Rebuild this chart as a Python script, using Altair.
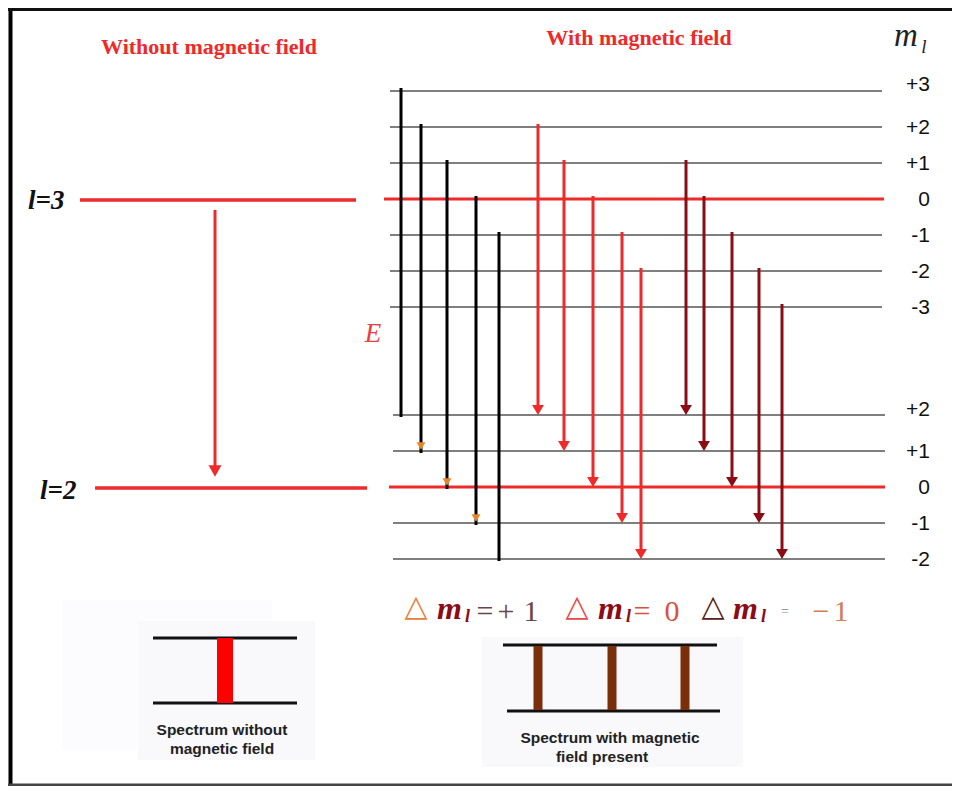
import altair as alt
import pandas as pd

# ---------------- data ----------------
upper_ml = [3, 2, 1, 0, -1, -2, -3]          # l = 3 sub-levels
lower_ml = [2, 1, 0, -1, -2]                 # l = 2 sub-levels
upper_labels = ["+3", "+2", "+1", "0", "-1", "-2", "-3"]
lower_labels = ["+2", "+1", "0", "-1", "-2"]

# transitions: group (delta m_l), upper m_l, lower m_l
trans_group = ["+1"] * 5 + ["0"] * 5 + ["-1"] * 5
trans_upper = [3, 2, 1, 0, -1, 2, 1, 0, -1, -2, 1, 0, -1, -2, -3]
trans_lower = [2, 1, 0, -1, -2, 2, 1, 0, -1, -2, 2, 1, 0, -1, -2]
trans_head = [False, True, True, True, False] + [True] * 10

# spectrum lines (relative positions of the three split lines)
spec_split = [-1, 0, 1]

# ---------------- layout ----------------
X0, X1, Y0, Y1 = 8, 952, 8, 786
UP_ZERO, LO_ZERO, GAP = 199, 487, 36
trans_x = [401, 421, 447, 476, 499, 538, 564, 593, 622, 641, 686, 704, 732, 759, 782]
RED = "#EE2A2A"
DARK = "#8B0C14"
GREY = "#555555"
ORANGE = "#E8842A"
group_line = {"+1": "#000000", "0": RED, "-1": DARK}
group_head = {"+1": ORANGE, "0": RED, "-1": DARK}
group_hsize = {"+1": 80, "0": 140, "-1": 140}

def uy(m):
    return UP_ZERO - GAP * m

def ly(m):
    return LO_ZERO - GAP * m

xs = alt.Scale(domain=[X0, X1])
ys = alt.Scale(domain=[Y0, Y1], reverse=True)

def X(f="x"):
    return alt.X(f"{f}:Q", scale=xs, axis=None)

def Y(f="y"):
    return alt.Y(f"{f}:Q", scale=ys, axis=None)

layers = []

# faint background panels of the spectrum pictures
panels = pd.DataFrame({
    "x": [62, 138, 482], "x2": [272, 315, 743],
    "y": [600, 621, 637], "y2": [750, 760, 767],
    "c": ["#FCFCFE", "#F9F9FC", "#F9F9FC"],
})
layers.append(alt.Chart(panels).mark_rect().encode(
    x=X(), x2="x2:Q", y=Y(), y2="y2:Q", color=alt.Color("c:N", scale=None)))

# frame
frame = pd.DataFrame({"x": [10.5, X0, X0], "x2": [10.5, X1, X1],
                      "y": [Y0, 9.5, 785], "y2": [Y1, 9.5, 785],
                      "w": [4, 3, 3], "c": ["#000", "#111", "#444"]})
layers.append(alt.Chart(frame).mark_rule().encode(
    x=X(), x2="x2:Q", y=Y(), y2="y2:Q",
    strokeWidth=alt.StrokeWidth("w:Q", scale=None),
    color=alt.Color("c:N", scale=None)))

# split levels (grey), m_l = 0 in red
lev_rows = []
for m in upper_ml:
    lev_rows.append({"x": 384 if m == 0 else 390, "x2": 884 if m == 0 else 882, "y": uy(m),
                     "c": RED if m == 0 else GREY, "w": 3 if m == 0 else 1.6})
for m in lower_ml:
    lev_rows.append({"x": 389 if m == 0 else 393, "x2": 885, "y": ly(m),
                     "c": RED if m == 0 else GREY, "w": 3 if m == 0 else 1.6})
# unsplit levels on the left
lev_rows.append({"x": 80, "x2": 356, "y": 200, "c": RED, "w": 3.5})
lev_rows.append({"x": 95, "x2": 367, "y": 488, "c": RED, "w": 3.5})
levels = pd.DataFrame(lev_rows)
layers.append(alt.Chart(levels).mark_rule().encode(
    x=X(), x2="x2:Q", y=Y(),
    color=alt.Color("c:N", scale=None),
    strokeWidth=alt.StrokeWidth("w:Q", scale=None)))

# transitions
t_rows, h_rows = [], []
for g, mu, mlo, x, hd in zip(trans_group, trans_upper, trans_lower, trans_x, trans_head):
    top = uy(mu) - 3
    bot = ly(mlo) - (6 if (hd and g != "+1") else 0) + (2 if g == "+1" else 0)
    t_rows.append({"x": x, "y": top, "y2": bot, "c": group_line[g]})
    if hd:
        h_rows.append({"x": x, "y": ly(mlo) - 5, "c": group_head[g], "s": group_hsize[g]})
# no-field transition
t_rows.append({"x": 215, "y": 210, "y2": 466, "c": RED})
h_rows.append({"x": 215, "y": 471, "c": RED, "s": 170})
tl = pd.DataFrame(t_rows)
hl = pd.DataFrame(h_rows)
layers.append(alt.Chart(tl).mark_rule(strokeWidth=3).encode(
    x=X(), y=Y(), y2="y2:Q", color=alt.Color("c:N", scale=None)))
layers.append(alt.Chart(hl).mark_point(shape="triangle-down", filled=True, opacity=1).encode(
    x=X(), y=Y(), color=alt.Color("c:N", scale=None), size=alt.Size("s:Q", scale=None)))

# spectrum pictures
sp_lines = pd.DataFrame({"x": [153, 153, 503, 507], "x2": [297, 297, 717, 720],
                         "y": [638, 703, 645, 711]})
layers.append(alt.Chart(sp_lines).mark_rule(strokeWidth=3, color="#111").encode(
    x=X(), x2="x2:Q", y=Y()))
bars = [{"x": 217, "x2": 233, "y": 638, "y2": 703, "c": "#FF0000"}]
for k in spec_split:
    cx = 612 + 74 * k + (0 if k <= 0 else -1)
    bars.append({"x": cx - 4.5, "x2": cx + 4.5, "y": 646, "y2": 710, "c": "#7A2E0A"})
layers.append(alt.Chart(pd.DataFrame(bars)).mark_rect().encode(
    x=X(), x2="x2:Q", y=Y(), y2="y2:Q", color=alt.Color("c:N", scale=None)))

# ---------------- texts ----------------
def text_layer(rows, font, style="normal", weight="normal", align="center"):
    df = pd.DataFrame(rows, columns=["x", "y", "t", "c", "s"])
    return alt.Chart(df).mark_text(font=font, fontStyle=style, fontWeight=weight,
                                   align=align, baseline="middle").encode(
        x=X(), y=Y(), text="t:N", color=alt.Color("c:N", scale=None),
        size=alt.Size("s:Q", scale=None))

SERIF = "Liberation Serif"
SANS = "Liberation Sans"

layers.append(text_layer([
    [209, 47, "Without magnetic field", "#F02828", 22],
    [639, 38, "With magnetic field", "#F02828", 22],
], SERIF, weight="bold"))

lab_rows = [[930, uy(m) + (-6 if m == 3 else 1), t, "#111", 21] for m, t in zip(upper_ml, upper_labels)]
lab_rows += [[930, ly(m) + (-5 if m == 2 else 1), t, "#111", 21] for m, t in zip(lower_ml, lower_labels)]
layers.append(text_layer(lab_rows, SANS, align="right"))

layers.append(text_layer([
    [28, 201, "l=3", "#111", 27],
    [40, 491, "l=2", "#111", 27],
], SERIF, style="italic", weight="bold", align="left"))

layers.append(text_layer([
    [373, 334, "E", "#E84040", 27],
    [906, 36, "m", "#222", 33],
    [924, 47, "l", "#222", 19],
], SERIF, style="italic"))

# delta m_l row
layers.append(text_layer([
    [416, 607, "△", "#E8803A", 30],
    [577, 607, "△", "#E84848", 30],
    [713, 607, "△", "#5A2020", 30],
], "DejaVu Sans"))
layers.append(text_layer([
    [485, 612, "=", "#6B4545", 30],
    [506, 612, "+", "#6B4545", 30],
    [531, 612, "1", "#6B4545", 30],
    [642, 612, "=", "#D85040", 30],
    [672, 612, "0", "#D85040", 30],
    [821, 612, "−", "#D08050", 30],
    [841, 612, "1", "#D08050", 30],
    [785, 612, "=", "#888888", 14],
], SERIF))
layers.append(text_layer([
    [437, 609, "m", DARK, 32],
    [598, 609, "m", DARK, 32],
    [733, 609, "m", DARK, 32],
    [465, 617, "l", DARK, 18],
    [626, 617, "l", DARK, 18],
    [761, 617, "l", DARK, 18],
], SERIF, style="italic", weight="bold", align="left"))

layers.append(text_layer([
    [222, 730, "Spectrum without", "#222", 15.5],
    [222, 749, "magnetic field", "#222", 15.5],
    [610, 738, "Spectrum with magnetic", "#222", 15.5],
    [602, 757, "field present", "#222", 15.5],
], SANS, weight="bold"))

chart = alt.layer(*layers).properties(
    width=X1 - X0, height=Y1 - Y0,
    autosize=alt.AutoSizeParams(type="none"), padding=0,
).configure_view(stroke=None)

chart.save("out.html", embed_options={"renderer": "svg", "actions": False})
